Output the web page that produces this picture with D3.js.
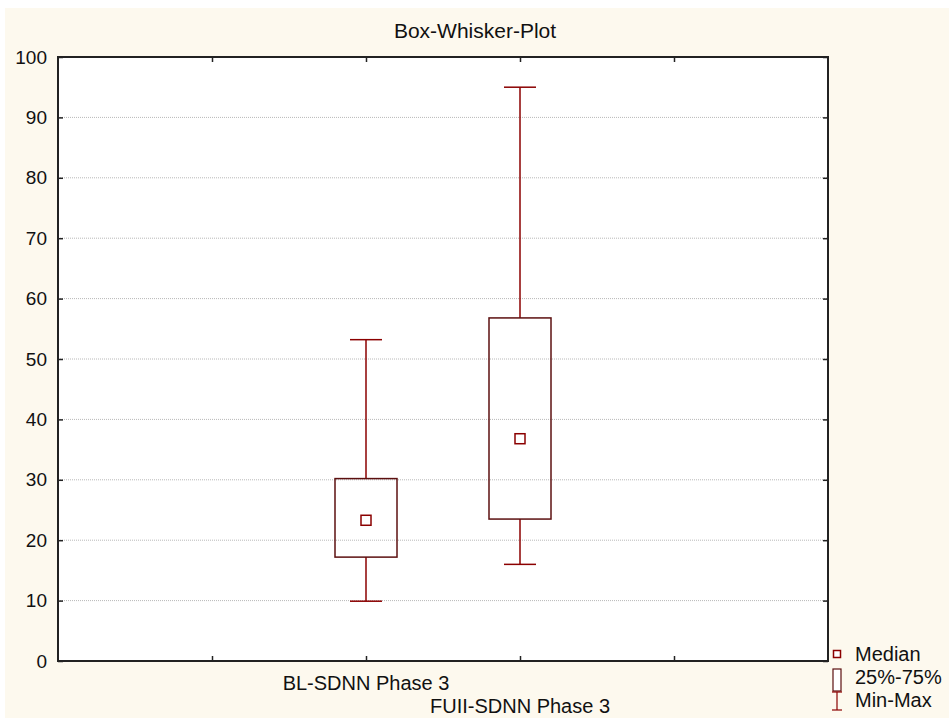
<!DOCTYPE html>
<html><head><meta charset="utf-8">
<script src="https://cdn.jsdelivr.net/npm/d3@7"></script>
<style>body{margin:0;background:#fff}svg{display:block;font-family:"Liberation Sans",Arial,sans-serif}</style>
</head><body>
<svg id="c" width="949" height="718"></svg>
<script>
const categories = ["BL-SDNN Phase 3", "FUII-SDNN Phase 3"];
const minVals = [9.9, 16.0];
const q1Vals = [17.2, 23.5];
const medianVals = [23.3, 36.8];
const q3Vals = [30.2, 56.8];
const maxVals = [53.2, 95.0];
const yTicks = [0,10,20,30,40,50,60,70,80,90,100];
const catPos = [2, 3];
const legendLabels = ["Median", "25%-75%", "Min-Max"];

const svg = d3.select("#c");
const L=58, R=828, T=57, B=661;
const red="#8b0000", boxStroke="#5c1010";
svg.append("rect").attr("x",5).attr("y",8).attr("width",944).attr("height",710).attr("fill","#fdf9ee");
svg.append("rect").attr("x",L).attr("y",T).attr("width",R-L).attr("height",B-T).attr("fill","#fff");

const x = d3.scaleLinear().domain([0,5]).range([L,R]);
const y = d3.scaleLinear().domain([0,100]).range([B,T]);

// grid
svg.append("g").selectAll("line").data(yTicks.filter(d=>d>0&&d<100)).join("line")
  .attr("x1",L).attr("x2",R).attr("y1",d=>y(d)).attr("y2",d=>y(d))
  .attr("stroke","#b8b8b8").attr("stroke-width",1).attr("stroke-dasharray","1,1");

// axes
const tickLen = 5;
const gL = svg.append("g").attr("transform",`translate(${L},0)`).call(d3.axisLeft(y).tickValues(yTicks).tickSize(-tickLen).tickPadding(11).tickFormat(d3.format("d")));
const gR = svg.append("g").attr("transform",`translate(${R},0)`).call(d3.axisRight(y).tickValues(yTicks).tickSize(-tickLen).tickFormat(""));
const gB = svg.append("g").attr("transform",`translate(0,${B})`).call(d3.axisBottom(x).tickValues([1,2,3,4]).tickSize(-tickLen).tickFormat(""));
const gT = svg.append("g").attr("transform",`translate(0,${T})`).call(d3.axisTop(x).tickValues([1,2,3,4]).tickSize(-tickLen).tickFormat(""));
[gL,gR,gB,gT].forEach(g=>{
  g.select(".domain").remove();
  g.selectAll(".tick line").attr("stroke","#222").attr("stroke-width",1.5);
  g.selectAll("text").attr("font-size",19).attr("fill","#111").attr("font-family","Liberation Sans, Arial, sans-serif");
});
svg.append("rect").attr("x",L).attr("y",T).attr("width",R-L).attr("height",B-T).attr("fill","none").attr("stroke","#222").attr("stroke-width",2);

// boxes
const boxW = 62, capW = 32, medS = 10;
const gBox = svg.append("g");
categories.forEach((c,i)=>{
  const cx = x(catPos[i]);
  gBox.append("line").attr("x1",cx).attr("x2",cx).attr("y1",y(maxVals[i])).attr("y2",y(q3Vals[i])).attr("stroke",red).attr("stroke-width",1.5);
  gBox.append("line").attr("x1",cx).attr("x2",cx).attr("y1",y(q1Vals[i])).attr("y2",y(minVals[i])).attr("stroke",red).attr("stroke-width",1.5);
  [maxVals[i],minVals[i]].forEach(v=>gBox.append("line").attr("x1",cx-capW/2).attr("x2",cx+capW/2).attr("y1",y(v)).attr("y2",y(v)).attr("stroke",red).attr("stroke-width",1.5));
  gBox.append("rect").attr("x",cx-boxW/2).attr("y",y(q3Vals[i])).attr("width",boxW).attr("height",y(q1Vals[i])-y(q3Vals[i]))
    .attr("fill","none").attr("stroke",boxStroke).attr("stroke-width",1.5);
  gBox.append("rect").attr("x",cx-medS/2).attr("y",y(medianVals[i])-medS/2).attr("width",medS).attr("height",medS)
    .attr("fill","#fff").attr("stroke",red).attr("stroke-width",1.5);
});

// category labels
categories.forEach((c,i)=>{
  svg.append("text").attr("x",x(catPos[i])).attr("y",i===0?690:713).attr("text-anchor","middle")
    .attr("font-size",20).attr("fill","#111").text(c);
});

// title
svg.append("text").attr("x",475).attr("y",38).attr("text-anchor","middle").attr("font-size",21).attr("fill","#111").text("Box-Whisker-Plot");

// legend
const lg = svg.append("g");
lg.append("rect").attr("x",833.5).attr("y",650.5).attr("width",7).attr("height",7).attr("fill","#fff").attr("stroke",red).attr("stroke-width",1.5);
lg.append("rect").attr("x",833).attr("y",669).attr("width",8).attr("height",22).attr("fill","#fff").attr("stroke",boxStroke).attr("stroke-width",1.2);
lg.append("line").attr("x1",837).attr("x2",837).attr("y1",692).attr("y2",710).attr("stroke",red).attr("stroke-width",1.2);
lg.append("line").attr("x1",832).attr("x2",842).attr("y1",692).attr("y2",692).attr("stroke",red).attr("stroke-width",1.2);
lg.append("line").attr("x1",832).attr("x2",842).attr("y1",710).attr("y2",710).attr("stroke",red).attr("stroke-width",1.2);
legendLabels.forEach((t,i)=>lg.append("text").attr("x",855).attr("y",661+i*23).attr("font-size",20).attr("fill","#111").text(t));
</script>
</body></html>
